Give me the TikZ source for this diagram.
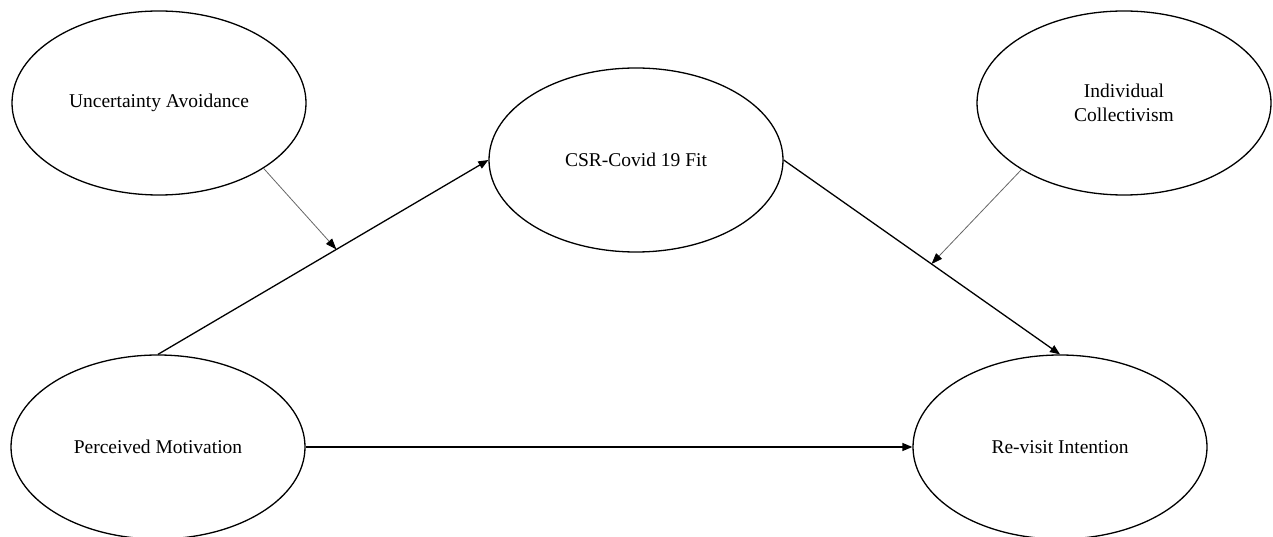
\documentclass[tikz,border=0pt]{standalone}
\usepackage{fontspec}
\setmainfont{Liberation Serif}
\usetikzlibrary{shapes.geometric,arrows.meta,calc}

\begin{document}
\begin{tikzpicture}[x=1pt,y=-1pt,
  construct/.style={ellipse,draw=black,line width=1.3pt,minimum width=294pt,minimum height=184pt,
    inner sep=0pt,align=center,font=\fontsize{19.5}{24}\selectfont},
  path/.style={draw=black,line width=1.3pt,-{Triangle[length=10pt,width=8pt]}},
  moderator/.style={draw=black!60,line width=0.8pt,-{Triangle[length=11pt,width=8pt,black]}}]
  \useasboundingbox (0,0) rectangle (1273,537);

  % constructs
  \node[construct] (ua)  at (159,103)  {Uncertainty Avoidance};
  \node[construct] (csr) at (636,160)  {CSR-Covid 19 Fit};
  \node[construct] (ic)  at (1124,103) {Individual\\Collectivism};
  \node[construct] (pm)  at (158,447)  {Perceived Motivation};
  \node[construct] (ri)  at (1060,447) {Re-visit Intention};

  % direct paths
  \draw[path] (pm.north) -- (csr.west);
  \draw[path] (csr.east) -- (ri.north);
  \draw[path] (pm.east) -- (ri.west);

  % moderating effects onto the paths
  \coordinate (m1) at ($(pm.north)!0.54!(csr.west)$);
  \coordinate (m2) at ($(csr.east)!0.535!(ri.north)$);
  \draw[moderator] (ua.-32) -- (m1);
  \draw[moderator] (ic.-147.6) -- (m2);
\end{tikzpicture}
\end{document}
